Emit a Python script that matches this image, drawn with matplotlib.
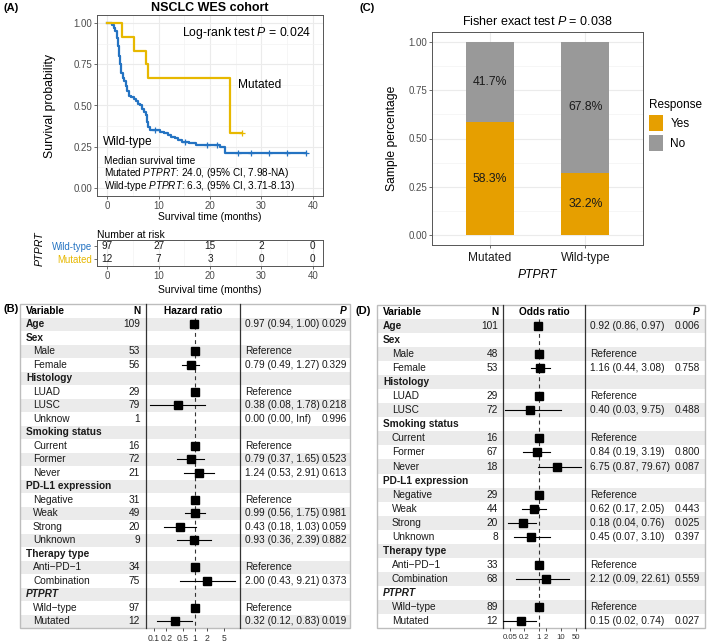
import numpy as np
import matplotlib
matplotlib.use('Agg')
import matplotlib.pyplot as plt
from matplotlib.patches import Rectangle, Patch

plt.rcParams['font.family'] = ['Liberation Sans', 'DejaVu Sans']
plt.rcParams['mathtext.fontset'] = 'custom'
plt.rcParams['mathtext.rm'] = 'Liberation Sans'
plt.rcParams['mathtext.it'] = 'Liberation Sans:italic'
plt.rcParams['mathtext.bf'] = 'Liberation Sans:bold'

# ---------------- data ----------------
# Panel A: Kaplan-Meier step curves
wt_time = [0, 1.0, 1.3, 1.6, 1.9, 2.1, 2.3, 2.5, 2.7, 3.0, 3.3, 3.6, 3.9, 4.2, 4.6, 5.2, 5.6, 6.0, 6.3,
           6.8, 7.2, 7.5, 7.8, 8.0, 8.3, 10.2, 11.0, 11.8, 12.5, 13.2, 13.8, 14.5, 16.0, 17.3, 22.0, 23.0, 38.7]
wt_surv = [1.0, 0.99, 0.97, 0.95, 0.91, 0.86, 0.80, 0.75, 0.70, 0.67, 0.65, 0.62, 0.59, 0.56, 0.55, 0.54, 0.53, 0.51, 0.50,
           0.48, 0.46, 0.44, 0.40, 0.37, 0.35, 0.34, 0.33, 0.32, 0.31, 0.30, 0.29, 0.28, 0.27, 0.26, 0.25, 0.21, 0.21]
wt_cens = [9.2, 15.2, 19.5, 21.3, 25.5, 28.0, 31.5, 35.0, 38.7]
mut_time = [0, 2.8, 5.3, 7.6, 8.0, 23.9, 26.2]
mut_surv = [1.0, 0.917, 0.833, 0.75, 0.667, 0.333, 0.333]
mut_cens = [26.2]

risk_times = [0, 10, 20, 30, 40]
risk_wt = [97, 27, 15, 2, 0]
risk_mut = [12, 7, 3, 0, 0]

# Panel C: response proportions
c_groups = ["Mutated", "Wild-type"]
c_yes = [0.583, 0.322]
c_no = [0.417, 0.678]

# Panel B: Cox model
b_labels = ["Age", "Sex", "Male", "Female", "Histology", "LUAD", "LUSC", "Unknow", "Smoking status",
            "Current", "Former", "Never", "PD-L1 expression", "Negative", "Weak", "Strong", "Unknown",
            "Therapy type", "Anti\u2212PD\u22121", "Combination", "PTPRT", "Wild\u2212type", "Mutated"]
b_n = [109, None, 53, 56, None, 29, 79, 1, None, 16, 72, 21, None, 31, 49, 20, 9, None, 34, 75, None, 97, 12]
b_est = [0.97, None, 1, 0.79, None, 1, 0.38, 0.00, None, 1, 0.79, 1.24, None, 1, 0.99, 0.43, 0.93, None, 1, 2.00, None, 1, 0.32]
b_lo = [0.94, None, None, 0.49, None, None, 0.08, 0.00, None, None, 0.37, 0.53, None, None, 0.56, 0.18, 0.36, None, None, 0.43, None, None, 0.12]
b_hi = [1.00, None, None, 1.27, None, None, 1.78, np.inf, None, None, 1.65, 2.91, None, None, 1.75, 1.03, 2.39, None, None, 9.21, None, None, 0.83]
b_p = [0.029, None, None, 0.329, None, None, 0.218, 0.996, None, None, 0.523, 0.613, None, None, 0.981, 0.059, 0.882, None, None, 0.373, None, None, 0.019]
b_ticks = [0.1, 0.2, 0.5, 1, 2, 5]
b_ticklabels = ["0.1", "0.2", "0.5", "1", "2", "5"]

# Panel D: logistic model
d_labels = ["Age", "Sex", "Male", "Female", "Histology", "LUAD", "LUSC", "Smoking status",
            "Current", "Former", "Never", "PD-L1 expression", "Negative", "Weak", "Strong", "Unknown",
            "Therapy type", "Anti\u2212PD\u22121", "Combination", "PTPRT", "Wild\u2212type", "Mutated"]
d_n = [101, None, 48, 53, None, 29, 72, None, 16, 67, 18, None, 29, 44, 20, 8, None, 33, 68, None, 89, 12]
d_est = [0.92, None, 1, 1.16, None, 1, 0.40, None, 1, 0.84, 6.75, None, 1, 0.62, 0.18, 0.45, None, 1, 2.12, None, 1, 0.15]
d_lo = [0.86, None, None, 0.44, None, None, 0.03, None, None, 0.19, 0.87, None, None, 0.17, 0.04, 0.07, None, None, 0.09, None, None, 0.02]
d_hi = [0.97, None, None, 3.08, None, None, 9.75, None, None, 3.19, 79.67, None, None, 2.05, 0.76, 3.10, None, None, 22.61, None, None, 0.74]
d_p = [0.006, None, None, 0.758, None, None, 0.488, None, None, 0.800, 0.087, None, None, 0.443, 0.025, 0.397, None, None, 0.559, None, None, 0.027]
d_ticks = [0.05, 0.2, 1, 2, 10, 50]
d_ticklabels = ["0.05", "0.2", "1", "2", "10", "50"]

GROUPS = {"Age", "Sex", "Histology", "Smoking status", "PD-L1 expression", "Therapy type", "PTPRT"}

BLUE = '#2473C2'
YEL = '#E7B800'
ORANGE = '#E69F00'
GREY = '#999999'
GRID = '#EBEBEB'
TXT = '#4D4D4D'

# ---------------- figure ----------------
W, H = 709, 642
fig = plt.figure(figsize=(W / 100, H / 100), dpi=100)


def box(l, t, r, b):
    return [l / W, 1 - b / H, (r - l) / W, (b - t) / H]


def ftxt(x, y, s, **kw):
    return fig.text(x / W, 1 - y / H, s, **kw)


def style_ax(ax):
    for sp in ax.spines.values():
        sp.set_color('#555555')
        sp.set_linewidth(0.7)
    ax.tick_params(which='major', length=2, width=0.6, color='#555555', labelsize=7,
                   labelcolor=TXT, pad=1.5)
    ax.tick_params(which='minor', length=0)
    ax.set_axisbelow(True)
    ax.grid(which='major', color=GRID, lw=0.8)
    ax.grid(which='minor', color='#F3F3F3', lw=0.5)


# panel letters
for s, x, y in [("(A)", 3, 8), ("(C)", 359, 8), ("(B)", 3, 309), ("(D)", 356, 311)]:
    ftxt(x, y, s, fontsize=8, fontweight='bold', ha='left', va='center')

# ---------------- Panel A: KM ----------------
axA = fig.add_axes(box(97, 15, 323, 196))
style_ax(axA)
axA.set_xlim(-2, 42)
axA.set_ylim(-0.05, 1.05)
axA.set_xticks([0, 10, 20, 30, 40])
axA.set_xticks([5, 15, 25, 35], minor=True)
axA.set_yticks([0, 0.25, 0.5, 0.75, 1.0])
axA.set_yticklabels(["0.00", "0.25", "0.50", "0.75", "1.00"])
axA.set_yticks([0.125, 0.375, 0.625, 0.875], minor=True)


def surv_at(times, survs, t):
    idx = np.searchsorted(np.asarray(times), np.asarray(t), side='right') - 1
    return np.asarray(survs)[idx]


axA.step(wt_time, wt_surv, where='post', color=BLUE, lw=1.6)
axA.step(mut_time, mut_surv, where='post', color=YEL, lw=1.6)
axA.plot(wt_cens, surv_at(wt_time, wt_surv, wt_cens), '+', color=BLUE, ms=4, mew=0.9)
axA.plot(mut_cens, surv_at(mut_time, mut_surv, mut_cens), '+', color=YEL, ms=4, mew=0.9)

axA.set_title("NSCLC WES cohort", fontsize=9, fontweight='bold', pad=3)
axA.text(39.8, 0.94, r"Log-rank test $P$ = 0.024", fontsize=8.8, ha='right', va='center')
axA.text(25.4, 0.625, "Mutated", fontsize=8.6, ha='left', va='center')
axA.text(-0.8, 0.28, "Wild-type", fontsize=8.6, ha='left', va='center')
axA.text(-0.6, 0.163, "Median survival time", fontsize=7.2, ha='left', va='center')
axA.text(-0.6, 0.087, r"Mutated $PTPRT$: 24.0, (95% CI, 7.98-NA)", fontsize=7.2, ha='left', va='center')
axA.text(-0.6, 0.011, r"Wild-type $PTPRT$: 6.3, (95% CI, 3.71-8.13)", fontsize=7.2, ha='left', va='center')
ftxt(50, 106, "Survival probability", rotation=90, ha='center', va='center', fontsize=8.8)
ftxt(210, 217, "Survival time (months)", ha='center', va='center', fontsize=7.5)

# risk table
axR = fig.add_axes(box(97, 240, 323, 266))
style_ax(axR)
axR.grid(False)
axR.set_xlim(-2, 42)
axR.set_ylim(0.5, 2.5)
axR.set_xticks(risk_times)
axR.set_xticks([5, 15, 25, 35], minor=True)
axR.grid(axis='x', which='major', color=GRID, lw=0.8)
axR.grid(axis='x', which='minor', color='#F3F3F3', lw=0.5)
axR.set_yticks([2, 1])
axR.set_yticklabels(["Wild-type", "Mutated"], fontsize=6.9)
for lbl, c in zip(axR.get_yticklabels(), [BLUE, YEL]):
    lbl.set_color(c)
for t, a, b in zip(risk_times, risk_wt, risk_mut):
    axR.text(t, 2, str(a), ha='center', va='center', fontsize=7.2, color='#1A1A1A')
    axR.text(t, 1, str(b), ha='center', va='center', fontsize=7.2, color='#1A1A1A')
axR.set_title("Number at risk", loc='left', fontsize=7.5, pad=1.5)
ftxt(40, 249, "PTPRT", rotation=90, ha='center', va='center', fontsize=7.7, style='italic')
ftxt(210, 290, "Survival time (months)", ha='center', va='center', fontsize=7.5)

# ---------------- Panel C: stacked bars ----------------
axC = fig.add_axes(box(432, 32, 643, 245))
style_ax(axC)
xpos = np.arange(1, len(c_groups) + 1)
axC.bar(xpos, c_yes, width=0.5, color=ORANGE, label="Yes", zorder=2)
axC.bar(xpos, c_no, width=0.5, bottom=c_yes, color=GREY, label="No", zorder=2)
for x, y, n in zip(xpos, c_yes, c_no):
    axC.text(x, y / 2, f"{y * 100:.1f}%", ha='center', va='center', fontsize=8.8, color='#1A1A1A', zorder=3)
    axC.text(x, y + n / 2, f"{n * 100:.1f}%", ha='center', va='center', fontsize=8.8, color='#1A1A1A', zorder=3)
axC.set_xlim(0.4, 2.6)
axC.set_ylim(-0.05, 1.05)
axC.set_xticks(xpos)
axC.set_xticklabels(c_groups, fontsize=8.6, color='#1A1A1A')
axC.tick_params(axis='x', pad=3)
axC.set_yticks([0, 0.25, 0.5, 0.75, 1.0])
axC.set_yticklabels(["0.00", "0.25", "0.50", "0.75", "1.00"])
axC.set_yticks([0.125, 0.375, 0.625, 0.875], minor=True)
axC.set_title(r"Fisher exact test $P$ = 0.038", fontsize=9, pad=5)
ftxt(392, 138, "Sample percentage", rotation=90, ha='center', va='center', fontsize=8.7)
ftxt(537, 275, "PTPRT", ha='center', va='center', fontsize=8.7, style='italic')
handles = [Patch(facecolor=ORANGE, edgecolor='none'), Patch(facecolor=GREY, edgecolor='none')]
leg = axC.legend(handles, ["Yes", "No"], title="Response", loc='upper left',
                 bbox_to_anchor=(649 / W, 1 - 99 / H), bbox_transform=fig.transFigure,
                 frameon=False, fontsize=8.5, title_fontsize=8.5, handlelength=1.2,
                 handleheight=1.7, labelspacing=0.35, handletextpad=0.6, borderpad=0,
                 borderaxespad=0)
leg._legend_box.align = "left"


# ---------------- forest tables ----------------
def fmt_est(e, l, h):
    if l is None:
        return "Reference"
    hs = "Inf" if np.isinf(h) else f"{h:.2f}"
    return f"{e:.2f} ({l:.2f}, {hs})"


def draw_forest(labels, ns, est, lo, hi, pv, geom, title, ticks, ticklabels, tickfs):
    tl, tr, top, bot, sep1, sep2, gx, sx, nx, ex, px, xlo, xhi = geom
    nr = len(labels)
    fs = 7.3
    axT = fig.add_axes(box(tl, top, tr, bot))
    axT.set_xlim(tl, tr)
    axT.set_ylim(nr + 0.5, -0.5)
    axT.axis('off')
    for i in range(nr):
        if i % 2 == 0:
            axT.add_patch(Rectangle((tl, i + 0.5), tr - tl, 1, fc='#EBEBEB', ec='none', zorder=0))
    axT.add_patch(Rectangle((tl, -0.5), tr - tl, nr + 1, fill=False, ec='#BDBDBD', lw=1.0,
                            clip_on=False, zorder=3))
    for sx_ in (sep1, sep2):
        axT.plot([sx_, sx_], [-0.5, nr + 0.5], color='#333333', lw=0.9, clip_on=False, zorder=4)
    # header
    axT.text(gx, 0, "Variable", fontsize=fs, fontweight='bold', ha='left', va='center')
    axT.text(nx, 0, "N", fontsize=fs, fontweight='bold', ha='right', va='center')
    axT.text((sep1 + sep2) / 2, 0, title, fontsize=fs, fontweight='bold', ha='center', va='center')
    axT.text(px, 0, "P", fontsize=fs, fontweight='bold', style='italic', ha='right', va='center')
    for i, lab in enumerate(labels):
        y = i + 1
        if lab in GROUPS:
            axT.text(gx, y, lab, fontsize=fs, fontweight='bold', ha='left', va='center',
                     style='italic' if lab == "PTPRT" else 'normal', color='#1A1A1A')
        else:
            axT.text(sx, y, lab, fontsize=fs, ha='left', va='center', color='#1A1A1A')
        if ns[i] is not None:
            axT.text(nx, y, str(ns[i]), fontsize=fs, ha='right', va='center', color='#1A1A1A')
        if est[i] is not None:
            axT.text(ex, y, fmt_est(est[i], lo[i], hi[i]), fontsize=fs, ha='left', va='center', color='#1A1A1A')
        if pv[i] is not None:
            axT.text(px, y, f"{pv[i]:.3f}", fontsize=fs, ha='right', va='center', color='#1A1A1A')

    axF = fig.add_axes(box(sep1, top, sep2, bot))
    axF.set_xscale('log')
    axF.set_xlim(xlo, xhi)
    axF.set_ylim(nr + 0.5, -0.5)
    axF.patch.set_alpha(0)
    for sp in axF.spines.values():
        sp.set_visible(False)
    axF.set_yticks([])
    axF.set_xticks(ticks)
    axF.set_xticklabels(ticklabels)
    axF.xaxis.set_minor_locator(matplotlib.ticker.NullLocator())
    axF.tick_params(axis='x', length=2.5, width=0.6, color='#333333', labelsize=tickfs,
                    labelcolor='#333333', pad=1.5)
    axF.vlines(1, 0.5, nr + 0.5, colors='#333333', linestyles=(0, (3.5, 3)), lw=0.8, zorder=1)
    for i in range(nr):
        e = est[i]
        if e is None or e <= 0:
            continue
        y = i + 1
        if lo[i] is not None:
            axF.plot([max(lo[i], xlo), min(hi[i], xhi)], [y, y], color='black', lw=0.8, zorder=2)
        axF.plot([e], [y], 's', color='black', ms=5.3, zorder=3)


draw_forest(b_labels, b_n, b_est, b_lo, b_hi, b_p,
            (20, 350, 304, 628, 146, 240, 26, 33, 140, 245, 347, 0.0638, 12.5),
            "Hazard ratio", b_ticks, b_ticklabels, 6.2)
draw_forest(d_labels, d_n, d_est, d_lo, d_hi, d_p,
            (377, 705, 305, 628, 503, 585, 383, 392, 498, 590, 700, 0.0231, 123.0),
            "Odds ratio", d_ticks, d_ticklabels, 5.6)

fig.savefig("out.png", dpi=100)
